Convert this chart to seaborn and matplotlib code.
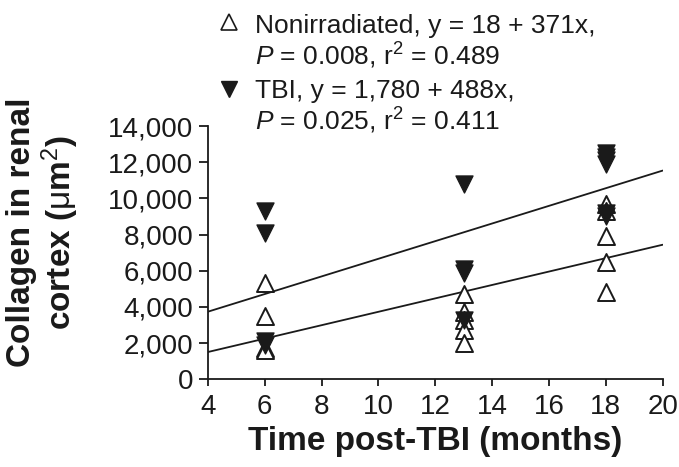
import matplotlib
matplotlib.use('Agg')
import matplotlib.pyplot as plt
import numpy as np
import pandas as pd
import seaborn as sns

# values
non_months = [6, 6, 6, 6, 13, 13, 13, 13, 13, 18, 18, 18, 18, 18]
non_collagen = [5300, 3500, 1700, 1600, 4700, 3700, 3300, 2700, 2000, 9700, 9300, 7900, 6500, 4800]
tbi_months = [6, 6, 6, 6, 13, 13, 13, 13, 18, 18, 18, 18, 18, 18]
tbi_collagen = [9300, 8100, 2100, 1900, 10800, 6100, 5900, 3300, 12500, 12300, 12100, 11900, 9200, 9000]

# fitted lines from the legend
non_fit = (18, 371)
tbi_fit = (1780, 488)
fit_range = [4, 20]

sns.set_theme(style='ticks')
plt.rcParams['font.family'] = ['Liberation Sans', 'DejaVu Sans']
plt.rcParams['mathtext.fontset'] = 'custom'
plt.rcParams['mathtext.rm'] = 'Liberation Sans'
plt.rcParams['mathtext.it'] = 'Liberation Sans:italic'
plt.rcParams['mathtext.bf'] = 'Liberation Sans:bold'

ink = '#1a1a1a'

df = pd.concat([
    pd.DataFrame({'months': non_months, 'collagen': non_collagen, 'group': 'Nonirradiated'}),
    pd.DataFrame({'months': tbi_months, 'collagen': tbi_collagen, 'group': 'TBI'}),
])

fig = plt.figure(figsize=(6.79, 4.67), dpi=100)
ax = fig.add_axes([0.306, 0.188, 0.67, 0.542])

xs = np.array(fit_range)
for a, b in [non_fit, tbi_fit]:
    sns.lineplot(x=xs, y=a + b * xs, color=ink, lw=1.3, ax=ax)

sns.scatterplot(data=df[df.group == 'Nonirradiated'], x='months', y='collagen',
                marker='^', s=150, facecolor='white', edgecolor=ink, linewidth=1.4, ax=ax, zorder=3)
sns.scatterplot(data=df[df.group == 'TBI'], x='months', y='collagen',
                marker='v', s=150, color=ink, edgecolor=ink, ax=ax, zorder=4)

ax.set_xlim(4, 20)
ax.set_ylim(0, 14000)
ax.set_xticks(range(4, 21, 2))
ax.set_yticks(range(0, 14001, 2000))
ax.set_yticklabels([f'{v:,}' for v in range(0, 14001, 2000)])
ax.tick_params(labelsize=20, width=1.3, color=ink, labelcolor=ink)
ax.tick_params(axis='x', length=5, pad=6)
ax.tick_params(axis='y', length=6.5, pad=4)
for s in ['left', 'bottom']:
    ax.spines[s].set_linewidth(1.3)
    ax.spines[s].set_color(ink)
sns.despine(ax=ax)
ax.set_xlabel('Time post-TBI (months)', fontsize=24, fontweight='bold', color=ink, labelpad=4)
ax.set_ylabel('Collagen in renal\ncortex ($\\mathrm{\\mu}$m$^\\mathrm{2}$)', fontsize=24,
              fontweight='bold', color=ink, linespacing=1.08, ha='center', va='center')
ax.yaxis.set_label_coords(-0.3615, 0.58)

kw = dict(fontsize=19, color=ink, va='baseline', ha='left')
fig.text(255 / 679, 1 - 33 / 467, 'Nonirradiated, y = 18 + 371x,', **kw)
fig.text(255 / 679, 1 - 65 / 467, '$\\it{P}$ = 0.008, r$^2$ = 0.489', **kw)
fig.text(255 / 679, 1 - 98 / 467, 'TBI, y = 1,780 + 488x,', **kw)
fig.text(255 / 679, 1 - 130 / 467, '$\\it{P}$ = 0.025, r$^2$ = 0.411', **kw)
fig.lines.append(matplotlib.lines.Line2D([229 / 679], [1 - 22 / 467], marker='^', ms=11,
                                         mfc='white', mec=ink, mew=1.2, transform=fig.transFigure))
fig.lines.append(matplotlib.lines.Line2D([229 / 679], [1 - 89 / 467], marker='v', ms=11,
                                         mfc=ink, mec=ink, transform=fig.transFigure))

fig.savefig('out.png', dpi=100)
